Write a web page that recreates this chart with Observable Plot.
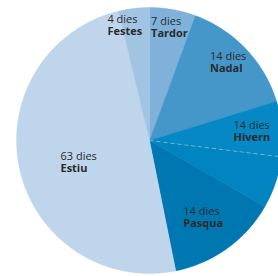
<!DOCTYPE html>
<html><head><meta charset="utf-8">
<script src="https://cdn.jsdelivr.net/npm/d3@7"></script>
<script src="https://cdn.jsdelivr.net/npm/@observablehq/plot@0.6"></script>
<style>html,body{margin:0;padding:0;background:#fff;overflow:hidden}</style>
</head><body><div id="chart"></div>
<script>
// ---- data ----
const periods   = ["Tardor", "Nadal", "Hivern", "Hivern (2)", "Pasqua", "Estiu", "Festes"];
const dayLabels = ["7 dies", "14 dies", "14 dies", "", "14 dies", "63 dies", "4 dies"];
const names     = ["Tardor", "Nadal", "Hivern", "", "Pasqua", "Estiu", "Festes"];
// slice sizes as drawn (degrees of the circle)
const shares    = [20.2, 52.6, 24.3, 22.6, 48.9, 177.9, 13.5];
const colors    = ["#80b1da", "#4596c9", "#0588c3", "#0284c0", "#0077b1", "#bed5eb", "#a1c4e3"];

// ---- layout ----
const W = 278, H = 276, cx = 149, cy = 140, R = 133;
const labelR = [111.5, 108.2, 102.4, 0, 95.2, 75.3, 114.3];   // px from centre
const nudge  = [[0,0],[0,0],[0,4],[0,0],[-4,3],[2.5,9],[-10.6,1.8]]; // px

const rows = periods.map((p, i) => ({period: p, share: shares[i], days: dayLabels[i], name: names[i], i}));
const arcs = d3.pie().sort(null).value(d => d.share)(rows);

const poly = [];
for (const a of arcs) {
  const n = Math.max(2, Math.ceil((a.endAngle - a.startAngle) / 0.005));
  poly.push({period: a.data.period, x: 0, y: 0});
  for (let k = 0; k <= n; k++) {
    const t = a.startAngle + (a.endAngle - a.startAngle) * k / n;
    poly.push({period: a.data.period, x: Math.sin(t), y: Math.cos(t)});
  }
  poly.push({period: a.data.period, x: 0, y: 0});
}

const labels = arcs.filter(a => a.data.name).map(a => {
  const i = a.data.i, m = (a.startAngle + a.endAngle) / 2;
  return {
    days: a.data.days, name: a.data.name,
    x: (labelR[i] * Math.sin(m) + nudge[i][0]) / R,
    y: (labelR[i] * Math.cos(m) - nudge[i][1]) / R
  };
});

const split = arcs[2].endAngle;
const dash = [{x1: 0, y1: 0, x2: 1.2 * Math.sin(split), y2: 1.2 * Math.cos(split)}];

const chart = Plot.plot({
  width: W, height: H,
  margin: 0,
  style: {fontFamily: "'Open Sans', sans-serif", background: "#fff"},
  x: {domain: [-cx / R, (W - cx) / R], axis: null},
  y: {domain: [(cy - H) / R, cy / R], axis: null},
  color: {domain: periods, range: colors},
  marks: [
    Plot.line(poly, {x: "x", y: "y", z: "period", fill: "period", stroke: "period", strokeWidth: 0.4, curve: "linear"}),
    Plot.link(dash, {x1: "x1", y1: "y1", x2: "x2", y2: "y2", stroke: "#ffffff", strokeOpacity: 0.45, strokeWidth: 0.8, strokeDasharray: "4,3"}),
    Plot.text(labels, {x: "x", y: "y", text: "days", textAnchor: "start", lineAnchor: "bottom", dx: -18, dy: -6, fontSize: 11, fill: "#2b2b2b"}),
    Plot.text(labels, {x: "x", y: "y", text: "name", textAnchor: "start", lineAnchor: "bottom", dx: -18, dy: 6, fontSize: 11, fontWeight: "bold", fill: "#2b2b2b"})
  ]
});
document.getElementById("chart").appendChild(chart);
</script>
</body></html>
